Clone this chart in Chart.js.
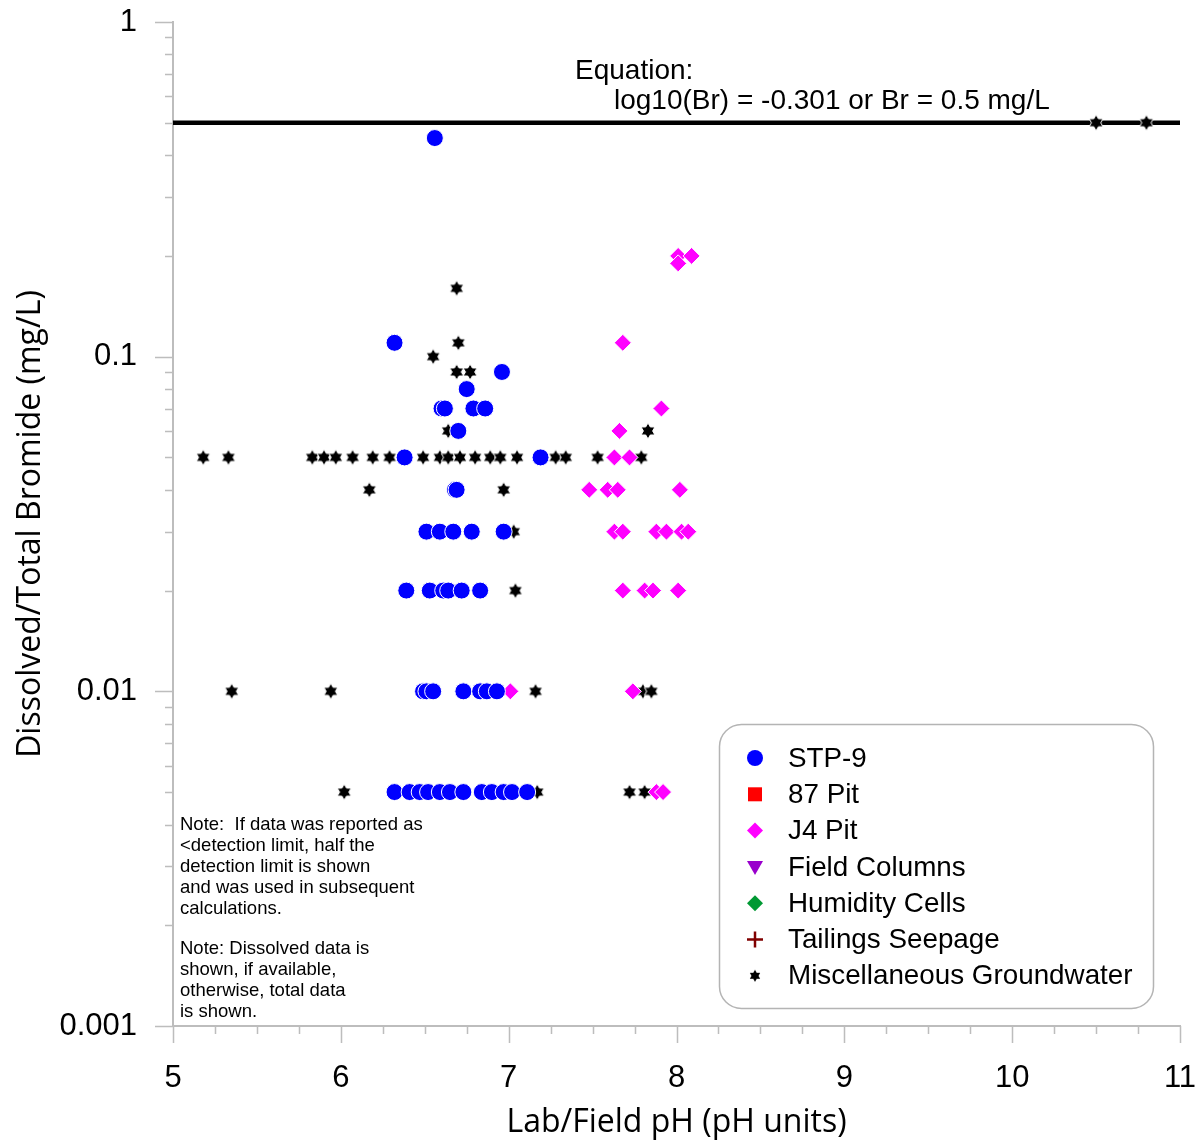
<!DOCTYPE html>
<html>
<head>
<meta charset="utf-8">
<script src="https://cdn.jsdelivr.net/npm/chart.js"></script>
<style>
    html, body { margin: 0; padding: 0; background: #fff; }
    #wrap { width: 1200px; height: 1144px; }
</style>
</head>
<body>
<div id="wrap"><canvas id="bromideChart" width="1200" height="1144"></canvas></div>
<script>
// pH / bromide values
const stp9Ph = [6.56, 6.32, 6.96, 6.75, 6.60, 6.62, 6.79, 6.86, 6.70, 6.38, 7.19, 6.68, 6.69,
    6.51, 6.59, 6.67, 6.78, 6.97,
    6.39, 6.53, 6.61, 6.64, 6.72, 6.83,
    6.49, 6.51, 6.55, 6.73, 6.83, 6.87, 6.93,
    6.32, 6.41, 6.47, 6.52, 6.59, 6.65, 6.73, 6.84, 6.90, 6.97, 7.02, 7.11];
const stp9Br = [0.45, 0.11, 0.09, 0.08, 0.07, 0.07, 0.07, 0.07, 0.06, 0.05, 0.05, 0.04, 0.04,
    0.03, 0.03, 0.03, 0.03, 0.03,
    0.02, 0.02, 0.02, 0.02, 0.02, 0.02,
    0.01, 0.01, 0.01, 0.01, 0.01, 0.01, 0.01,
    0.005, 0.005, 0.005, 0.005, 0.005, 0.005, 0.005, 0.005, 0.005, 0.005, 0.005, 0.005];

const j4Ph = [8.01, 8.09, 8.01, 7.68, 7.91, 7.66, 7.63, 7.72, 7.48, 7.59, 7.65, 8.02,
    7.63, 7.68, 7.88, 7.94, 8.03, 8.07,
    7.68, 7.81, 7.86, 8.01,
    7.01, 7.74,
    7.88, 7.92];
const j4Br = [0.2, 0.2, 0.19, 0.11, 0.07, 0.06, 0.05, 0.05, 0.04, 0.04, 0.04, 0.04,
    0.03, 0.03, 0.03, 0.03, 0.03, 0.03,
    0.02, 0.02, 0.02, 0.02,
    0.01, 0.01,
    0.005, 0.005];

const miscPh = [10.5, 10.8, 6.69, 6.70, 6.55, 6.69, 6.77, 7.83, 6.64,
    5.18, 5.33, 5.83, 5.90, 5.97, 6.07, 6.19, 6.29, 6.49, 6.59, 6.64, 6.71, 6.80, 6.89, 6.95,
    7.05, 7.19, 7.28, 7.34, 7.53, 7.79,
    6.17, 6.97,
    7.03,
    7.04,
    5.35, 5.94, 7.16, 7.80, 7.85,
    6.02, 7.17, 7.72, 7.81];
const miscBr = [0.5, 0.5, 0.16, 0.11, 0.10, 0.09, 0.09, 0.06, 0.06,
    0.05, 0.05, 0.05, 0.05, 0.05, 0.05, 0.05, 0.05, 0.05, 0.05, 0.05, 0.05, 0.05, 0.05, 0.05,
    0.05, 0.05, 0.05, 0.05, 0.05, 0.05,
    0.04, 0.04,
    0.03,
    0.02,
    0.01, 0.01, 0.01, 0.01, 0.01,
    0.005, 0.005, 0.005, 0.005];

// guideline: log10(Br) = -0.301
const limitPh = [5, 11];
const limitBr = [0.5, 0.5];

const legendNames = ['STP-9', '87 Pit', 'J4 Pit', 'Field Columns', 'Humidity Cells', 'Tailings Seepage', 'Miscellaneous Groundwater'];
const yLabelTicks = [0.001, 0.01, 0.1, 1];
const yMinorFactors = [2, 3, 4, 5, 6, 7, 8, 9];
const xMin = 5, xMax = 11, xStep = 0.25;

const noteLines = [
    'Note:  If data was reported as', '<detection limit, half the', 'detection limit is shown',
    'and was used in subsequent', 'calculations.'
];
const noteLines2 = ['Note: Dissolved data is', 'shown, if available,', 'otherwise, total data', 'is shown.'];

const axisColor = '#bdbdbd';
const arial = '"Liberation Sans", Arial, sans-serif';

const toPoints = (xs, ys) => xs.map((x, i) => ({ x: x, y: ys[i] }));

// 6-point star marker
function makeStar(R, outline) {
    const c = document.createElement('canvas');
    const s = Math.ceil(2 * R + 4);
    c.width = s;
    c.height = s;
    const g = c.getContext('2d');
    const r = R / Math.sqrt(3);
    g.beginPath();
    for (let i = 0; i < 12; i++) {
        const a = -Math.PI / 2 + i * Math.PI / 6;
        const rad = i % 2 === 0 ? R : r;
        g.lineTo(s / 2 + rad * Math.cos(a), s / 2 + rad * Math.sin(a));
    }
    g.closePath();
    g.fillStyle = '#000';
    g.fill();
    if (outline) {
        g.strokeStyle = '#fff';
        g.lineWidth = 1;
        g.stroke();
    }
    return c;
}

const starPoint = makeStar(8, true);
const starLegend = makeStar(6, false);

// yTicks: decades plus minor 2..9
const yTickValues = [];
yLabelTicks.forEach((d, i) => {
    yTickValues.push(d);
    if (i < yLabelTicks.length - 1) yMinorFactors.forEach(f => yTickValues.push(+(d * f).toPrecision(3)));
});
const isDecade = v => Math.abs(Math.log10(v) - Math.round(Math.log10(v))) < 1e-9;

const tickMarks = {
    id: 'tickMarks',
    afterDraw(chart) {
        const { ctx, chartArea: a, scales: { x, y } } = chart;
        ctx.save();
        ctx.strokeStyle = axisColor;
        ctx.lineWidth = 1.5;
        ctx.beginPath();
        yTickValues.forEach(v => {
            const py = Math.round(y.getPixelForValue(v)) + 0.5;
            const len = isDecade(v) ? 18 : 8;
            ctx.moveTo(a.left - len, py);
            ctx.lineTo(a.left, py);
        });
        for (let v = xMin; v <= xMax + 1e-9; v += xStep) {
            const px = Math.round(x.getPixelForValue(v)) + 0.5;
            const len = Number.isInteger(v) ? 17 : 8;
            ctx.moveTo(px, a.bottom);
            ctx.lineTo(px, a.bottom + len);
        }
        ctx.stroke();
        ctx.restore();
    }
};

const annotations = {
    id: 'annotations',
    afterDraw(chart) {
        const ctx = chart.ctx;
        ctx.save();
        ctx.fillStyle = '#000';
        ctx.textBaseline = 'middle';
        ctx.textAlign = 'left';
        ctx.font = '28px ' + arial;
        ctx.fillText('Equation:', 575, 71);
        ctx.fillText('log10(Br) = -0.301 or Br = 0.5 mg/L', 614, 101);

        ctx.font = '18.5px ' + arial;
        noteLines.forEach((t, i) => ctx.fillText(t, 180, 825 + i * 21));
        noteLines2.forEach((t, i) => ctx.fillText(t, 180, 949 + i * 21));
        ctx.restore();
    }
};

function drawMarker(ctx, kind, color, x, y) {
    ctx.save();
    ctx.fillStyle = color;
    ctx.strokeStyle = color;
    ctx.beginPath();
    if (kind === 'circle') {
        ctx.arc(x, y, 8, 0, Math.PI * 2);
        ctx.fill();
    } else if (kind === 'rect') {
        ctx.fillRect(x - 7, y - 7, 14, 14);
    } else if (kind === 'rectRot') {
        ctx.moveTo(x, y - 8); ctx.lineTo(x + 8, y); ctx.lineTo(x, y + 8); ctx.lineTo(x - 8, y);
        ctx.closePath();
        ctx.fill();
    } else if (kind === 'triangleDown') {
        ctx.moveTo(x - 8, y - 6); ctx.lineTo(x + 8, y - 6); ctx.lineTo(x, y + 8);
        ctx.closePath();
        ctx.fill();
    } else if (kind === 'cross') {
        ctx.lineWidth = 2.5;
        ctx.moveTo(x - 8, y); ctx.lineTo(x + 8, y);
        ctx.moveTo(x, y - 8); ctx.lineTo(x, y + 8);
        ctx.stroke();
    } else if (kind === 'star') {
        ctx.drawImage(starLegend, x - starLegend.width / 2, y - starLegend.height / 2);
    }
    ctx.restore();
}

const legendBox = {
    id: 'legendBox',
    afterDraw(chart) {
        const ctx = chart.ctx;
        const bx = 719, by = 724, bw = 434, bh = 284;
        ctx.save();
        ctx.beginPath();
        ctx.roundRect(bx + 0.5, by + 0.5, bw, bh, 22);
        ctx.fillStyle = '#fff';
        ctx.fill();
        ctx.strokeStyle = '#b4b4b4';
        ctx.lineWidth = 1.5;
        ctx.stroke();
        const sets = chart.data.datasets.filter(d => d.legendKind);
        ctx.font = '27.8px ' + arial;
        ctx.textBaseline = 'middle';
        sets.forEach((d, i) => {
            const yy = 758 + i * 36.3;
            drawMarker(ctx, d.legendKind, d.legendColor, 755, yy);
            ctx.fillStyle = '#000';
            ctx.fillText(d.label, 788, yy + 1);
        });
        ctx.restore();
    }
};

document.addEventListener('DOMContentLoaded', function () {
    const ctx = document.getElementById('bromideChart').getContext('2d');

    new Chart(ctx, {
        type: 'scatter',
        data: {
            datasets: [{
                label: legendNames[0],
                data: toPoints(stp9Ph, stp9Br),
                pointStyle: 'circle',
                pointRadius: 8.5,
                backgroundColor: '#0000ff',
                borderColor: '#ffffff',
                borderWidth: 1,
                legendKind: 'circle',
                legendColor: '#0000ff',
            }, {
                label: legendNames[1],
                data: [],
                pointStyle: 'rect',
                backgroundColor: '#ff0000',
                legendKind: 'rect',
                legendColor: '#ff0000',
            }, {
                label: legendNames[2],
                data: toPoints(j4Ph, j4Br),
                pointStyle: 'rectRot',
                pointRadius: 8.5,
                backgroundColor: '#ff00ff',
                borderColor: '#ffffff',
                borderWidth: 1,
                legendKind: 'rectRot',
                legendColor: '#ff00ff',
            }, {
                label: legendNames[3],
                data: [],
                pointStyle: 'triangle',
                rotation: 180,
                backgroundColor: '#9900cc',
                legendKind: 'triangleDown',
                legendColor: '#9900cc',
            }, {
                label: legendNames[4],
                data: [],
                pointStyle: 'rectRot',
                backgroundColor: '#009933',
                legendKind: 'rectRot',
                legendColor: '#009933',
            }, {
                label: legendNames[5],
                data: [],
                pointStyle: 'cross',
                borderColor: '#800000',
                legendKind: 'cross',
                legendColor: '#800000',
            }, {
                label: legendNames[6],
                data: toPoints(miscPh, miscBr),
                pointStyle: starPoint,
                legendKind: 'star',
                legendColor: '#000000',
            }, {
                type: 'line',
                label: 'limit',
                data: toPoints(limitPh, limitBr),
                borderColor: '#000000',
                borderWidth: 4.5,
                pointRadius: 0,
                clip: false,
            }],
        },
        options: {
            responsive: false,
            animation: false,
            devicePixelRatio: 1,
            layout: {
                padding: { top: 22, right: 20, left: 0, bottom: 0 },
            },
            scales: {
                x: {
                    type: 'linear',
                    min: xMin,
                    max: xMax,
                    grid: { display: false, drawTicks: false },
                    border: { color: axisColor, width: 2 },
                    ticks: {
                        stepSize: xStep,
                        autoSkip: false,
                        maxRotation: 0,
                        padding: 34,
                        color: '#000',
                        font: { family: arial, size: 31 },
                        callback: v => (Number.isInteger(v) ? v : ''),
                    },
                    title: {
                        display: true,
                        text: 'Lab/Field pH (pH units)',
                        color: '#000',
                        font: { family: '"Open Sans", sans-serif', size: 32 },
                        padding: { top: 0, bottom: 2 },
                    },
                    afterFit: scale => {
                        scale.height = 118;
                        scale.paddingLeft = 0;
                        scale.paddingRight = 0;
                    },
                },
                y: {
                    type: 'logarithmic',
                    min: 0.001,
                    max: 1,
                    grid: { display: false, drawTicks: false },
                    border: { color: axisColor, width: 2 },
                    afterBuildTicks: scale => { scale.ticks = yTickValues.map(v => ({ value: v })); },
                    ticks: {
                        autoSkip: false,
                        padding: 36,
                        color: '#000',
                        font: { family: arial, size: 31 },
                        callback: v => (isDecade(v) ? String(v) : ''),
                    },
                    title: {
                        display: true,
                        text: 'Dissolved/Total Bromide (mg/L)',
                        color: '#000',
                        font: { family: '"Open Sans", sans-serif', size: 32 },
                        padding: { top: 12, bottom: 0 },
                    },
                    afterFit: scale => {
                        scale.width = 173;
                        scale.paddingTop = 0;
                        scale.paddingBottom = 0;
                    },
                },
            },
            plugins: {
                legend: { display: false },
                tooltip: { enabled: false },
            },
        },
        plugins: [tickMarks, annotations, legendBox],
    });
});
</script>
</body>
</html>
